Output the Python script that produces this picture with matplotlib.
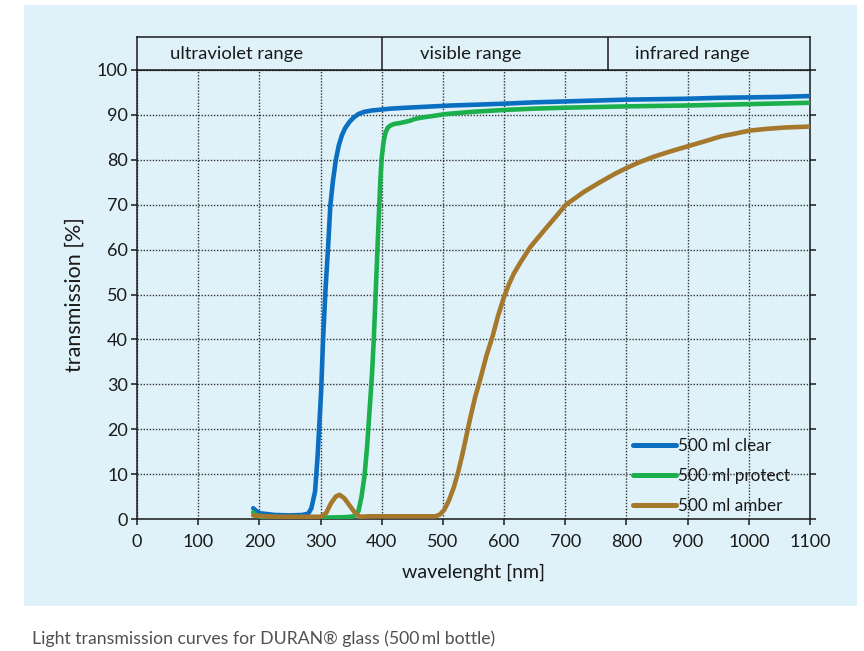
import matplotlib
matplotlib.use("Agg")
import matplotlib.pyplot as plt
import numpy as np

plt.rcParams['font.family'] = ['Lato', 'DejaVu Sans']

# ---- data ----
clear_nm = [190, 195, 200, 225, 250, 270, 280, 285, 291, 295, 298, 301, 304, 308, 312, 316, 320, 325, 330, 335, 340, 347, 354, 362, 372, 385, 400, 415, 440, 470, 514, 560, 600, 650, 700, 750, 800, 850, 900, 950, 1000, 1050, 1100]
clear_T  = [2.4, 1.8, 1.3, 0.9, 0.8, 0.9, 1.2, 2.4, 6.1, 13.6, 21, 28.5, 39.6, 50.8, 59.8, 69.8, 75, 80, 83.3, 85.5, 87.0, 88.4, 89.4, 90.2, 90.7, 91.0, 91.2, 91.4, 91.6, 91.8, 92.1, 92.3, 92.5, 92.8, 93.0, 93.2, 93.4, 93.5, 93.6, 93.8, 93.9, 94.0, 94.2]

protect_nm = [190, 195, 200, 250, 300, 340, 355, 362, 367, 372, 376, 380, 384, 387, 390, 393, 396, 398, 400, 403, 406, 410, 415, 421, 430, 437, 446, 454, 465, 481, 500, 514, 550, 600, 650, 700, 800, 900, 1000, 1100]
protect_T  = [1.5, 0.8, 0.5, 0.4, 0.3, 0.4, 0.6, 1.8, 5.0, 9.8, 16, 24, 32, 40, 50, 60, 70, 76, 80.5, 84.0, 86.0, 87.2, 87.7, 88.0, 88.2, 88.4, 88.7, 89.1, 89.4, 89.7, 90.1, 90.3, 90.7, 91.1, 91.4, 91.6, 91.9, 92.1, 92.4, 92.7]

amber_nm = [190, 200, 225, 250, 280, 300, 309, 317, 325, 331, 339, 347, 355, 364, 380, 420, 460, 488, 495, 502, 510, 518, 525, 532, 545, 553, 562, 571, 581, 590, 600, 608, 616, 627, 643, 665, 685, 701, 731, 758, 780, 799, 820, 845, 870, 900, 930, 954, 980, 1001, 1030, 1060, 1099]
amber_T  = [0.8, 0.7, 0.5, 0.5, 0.5, 0.5, 1.3, 3.5, 5.0, 5.4, 4.6, 3.1, 1.6, 0.5, 0.6, 0.6, 0.6, 0.6, 1.0, 2.0, 4.2, 7.1, 10.5, 14.5, 22.7, 27.3, 31.6, 36.3, 40.6, 45.2, 49.5, 52.3, 54.7, 57.2, 60.6, 64.2, 67.4, 70.0, 72.9, 75.1, 76.8, 78.1, 79.4, 80.7, 81.8, 83.0, 84.2, 85.2, 85.9, 86.5, 86.9, 87.2, 87.4]

series_labels = ["500 ml clear", "500 ml protect", "500 ml amber"]
series_colors = ["#0b6fc1", "#1bb04c", "#a5782b"]

x_ticks = list(range(0, 1101, 100))
y_ticks = list(range(0, 101, 10))

range_edges = [0, 400, 770, 1100]
range_labels = ["ultraviolet range", "visible range", "infrared range"]

caption = "Light transmission curves for DURAN\u00ae glass (500\u2009ml bottle)"

# layout: where the range labels sit inside the header (in nm units)
range_label_pos = [162, 546, 908]

panel_color = "#dff1f9"
ink = "#1a1a1a"

# ---- figure ----
W, H = 864, 651
fig = plt.figure(figsize=(W / 100, H / 100), dpi=100)
fig.patch.set_facecolor("white")

# light-blue panel (background axes)
bg = fig.add_axes([24 / W, 1 - 606 / H, (857 - 24) / W, (606 - 5) / H], zorder=-10)
bg.set_facecolor(panel_color)
bg.set_xticks([])
bg.set_yticks([])
for s in bg.spines.values():
    s.set_visible(False)

ax_l, ax_r = 137 / W, 810 / W
ax_b, ax_t = 1 - 519 / H, 1 - 70 / H
ax = fig.add_axes([ax_l, ax_b, ax_r - ax_l, ax_t - ax_b])
ax.set_facecolor(panel_color)

for nm, T, lab, col in zip([clear_nm, protect_nm, amber_nm], [clear_T, protect_T, amber_T],
                           series_labels, series_colors):
    ax.plot(nm, T, color=col, lw=3.3, label=lab, solid_capstyle="round",
            solid_joinstyle="round", zorder=3)

ax.set_xlim(0, 1100)
ax.set_ylim(0, 100)
ax.set_xticks(x_ticks)
ax.set_yticks(y_ticks)
ax.grid(True, color="#333333", linestyle=(0, (1, 1.2)), lw=1.0, zorder=1)
for s in ax.spines.values():
    s.set_color(ink)
    s.set_linewidth(1.1)
ax.tick_params(direction="out", length=4.5, width=1.1, color=ink,
               labelsize=13, labelcolor=ink, right=True, pad=2)
ax.tick_params(axis="x", pad=6)
ax.set_xlabel("wavelenght [nm]", fontsize=14, color=ink, labelpad=10)
ax.set_ylabel("transmission [%]", fontsize=15.5, color=ink, labelpad=9)

leg = ax.legend(loc="lower right", bbox_to_anchor=(0.988, -0.016), frameon=False,
                fontsize=12.3, handlelength=2.5, handletextpad=0.12,
                labelspacing=0.82, borderaxespad=0.3)
for t in leg.get_texts():
    t.set_color(ink)
for h in leg.legend_handles:
    h.set_linewidth(3.6)

# header box with ranges
hb_b = ax_t
hb_t = 1 - 37 / H
hax = fig.add_axes([ax_l, hb_b, ax_r - ax_l, hb_t - hb_b])
hax.set_facecolor(panel_color)
hax.set_xlim(0, 1100)
hax.set_ylim(0, 1)
hax.set_xticks([])
hax.set_yticks([])
for s in hax.spines.values():
    s.set_color(ink)
    s.set_linewidth(1.1)
for e in range_edges[1:-1]:
    hax.axvline(e, color=ink, lw=1.1)
for xc, lab in zip(range_label_pos, range_labels):
    hax.text(xc, 0.5, lab, ha="center", va="center", fontsize=13.3, color=ink)

fig.text(32 / W, 1 - 639 / H, caption, ha="left", va="center", fontsize=12.7,
         color="#505050")

fig.savefig("out.png", dpi=100, facecolor=fig.get_facecolor())
